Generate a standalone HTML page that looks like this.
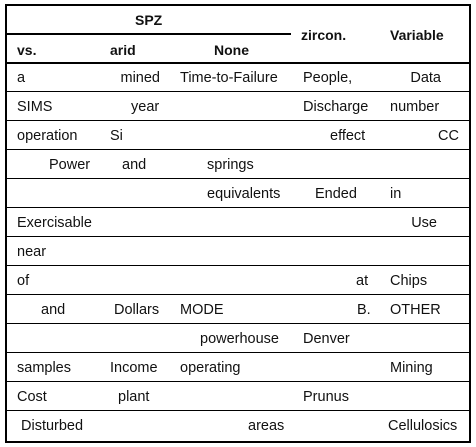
<!DOCTYPE html>
<html><head><style>
body{margin:0;background:#fff;width:476px;height:447px;position:relative;overflow:hidden;font-family:"Liberation Sans",sans-serif;font-size:14.5px;color:#111}
.l{position:absolute;background:#000}
.t{position:absolute;line-height:16px;white-space:nowrap}
.r{position:absolute;line-height:16px;white-space:nowrap;text-align:right}
.b{font-weight:bold;font-size:14px}
</style></head><body>
<div class="l" style="left:5px;top:4px;width:466px;height:2px"></div>
<div class="l" style="left:5px;top:441px;width:466px;height:2px"></div>
<div class="l" style="left:5px;top:4px;width:2px;height:439px"></div>
<div class="l" style="left:469px;top:4px;width:2px;height:439px"></div>
<div class="l" style="left:5px;top:33px;width:286px;height:2px"></div>
<div class="l" style="left:5px;top:62px;width:466px;height:2px"></div>
<div class="l" style="left:5px;top:91px;width:466px;height:1px"></div>
<div class="l" style="left:5px;top:120px;width:466px;height:1px"></div>
<div class="l" style="left:5px;top:149px;width:466px;height:1px"></div>
<div class="l" style="left:5px;top:178px;width:466px;height:1px"></div>
<div class="l" style="left:5px;top:207px;width:466px;height:1px"></div>
<div class="l" style="left:5px;top:236px;width:466px;height:1px"></div>
<div class="l" style="left:5px;top:265px;width:466px;height:1px"></div>
<div class="l" style="left:5px;top:294px;width:466px;height:1px"></div>
<div class="l" style="left:5px;top:323px;width:466px;height:1px"></div>
<div class="l" style="left:5px;top:352px;width:466px;height:1px"></div>
<div class="l" style="left:5px;top:381px;width:466px;height:1px"></div>
<div class="l" style="left:5px;top:410px;width:466px;height:1px"></div>

<div class="t b" style="left:135px;top:12px">SPZ</div>
<div class="t b" style="left:17px;top:42px">vs.</div>
<div class="t b" style="left:110px;top:42px">arid</div>
<div class="t b" style="left:214px;top:42px">None</div>
<div class="t b" style="left:301px;top:27px">zircon.</div>
<div class="t b" style="left:390px;top:27px">Variable</div>

<div class="t" style="left:17px;top:70px">a</div>
<div class="r" style="right:316px;top:70px">mined</div>
<div class="t" style="left:180px;top:70px">Time-to-Failure</div>
<div class="t" style="left:303px;top:70px">People,</div>
<div class="r" style="right:35px;top:70px">Data</div>

<div class="t" style="left:17px;top:99px">SIMS</div>
<div class="t" style="left:131px;top:99px">year</div>
<div class="t" style="left:303px;top:99px">Discharge</div>
<div class="t" style="left:390px;top:99px">number</div>

<div class="t" style="left:17px;top:128px">operation</div>
<div class="t" style="left:110px;top:128px">Si</div>
<div class="t" style="left:330px;top:128px">effect</div>
<div class="r" style="right:17px;top:128px">CC</div>

<div class="t" style="left:49px;top:157px">Power</div>
<div class="t" style="left:122px;top:157px">and</div>
<div class="t" style="left:207px;top:157px">springs</div>

<div class="t" style="left:207px;top:186px">equivalents</div>
<div class="t" style="left:315px;top:186px">Ended</div>
<div class="t" style="left:390px;top:186px">in</div>

<div class="t" style="left:17px;top:215px">Exercisable</div>
<div class="r" style="right:39px;top:215px">Use</div>

<div class="t" style="left:17px;top:244px">near</div>

<div class="t" style="left:17px;top:273px">of</div>
<div class="t" style="left:356px;top:273px">at</div>
<div class="t" style="left:390px;top:273px">Chips</div>

<div class="t" style="left:41px;top:302px">and</div>
<div class="t" style="left:114px;top:302px">Dollars</div>
<div class="t" style="left:180px;top:302px">MODE</div>
<div class="t" style="left:357px;top:302px">B.</div>
<div class="t" style="left:390px;top:302px">OTHER</div>

<div class="t" style="left:200px;top:331px">powerhouse</div>
<div class="t" style="left:303px;top:331px">Denver</div>

<div class="t" style="left:17px;top:360px">samples</div>
<div class="t" style="left:110px;top:360px">Income</div>
<div class="t" style="left:180px;top:360px">operating</div>
<div class="t" style="left:390px;top:360px">Mining</div>

<div class="t" style="left:17px;top:389px">Cost</div>
<div class="t" style="left:118px;top:389px">plant</div>
<div class="t" style="left:303px;top:389px">Prunus</div>

<div class="t" style="left:21px;top:418px">Disturbed</div>
<div class="t" style="left:248px;top:418px">areas</div>
<div class="t" style="left:388px;top:418px">Cellulosics</div>
</body></html>
